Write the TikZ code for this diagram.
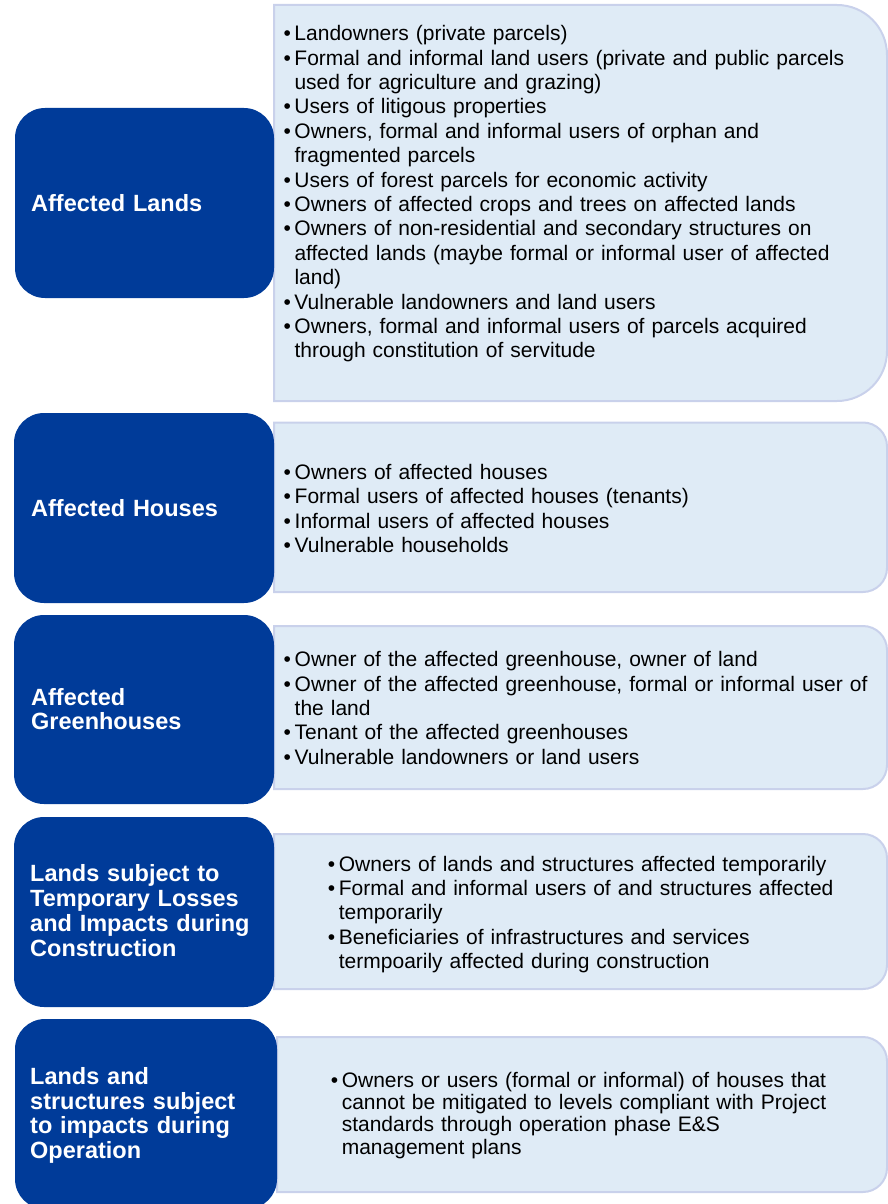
\documentclass[tikz,border=0pt]{standalone}
\usepackage{fontspec}
\setmainfont{Liberation Sans}
\definecolor{catblue}{RGB}{0,59,153}
\definecolor{panelfill}{RGB}{223,235,246}
\definecolor{panelline}{RGB}{201,209,235}

% one bulleted paragraph with a hanging indent
\newcommand\itm[1]{\hangindent=11pt\hangafter=1\noindent\makebox[11pt][l]{\textbullet}#1\par}

% light panel: square on the left, rounded on the right
% #1 left, #2 top, #3 right, #4 bottom, #5 corner radius (all in pt, y measured downwards)
\newcommand\panelbox[5]{%
  \filldraw[panel] (#1pt,-#2pt) -- ({#3pt-#5pt},-#2pt)
    arc[start angle=90,end angle=0,radius=#5pt]
    -- (#3pt,{-#4pt+#5pt})
    arc[start angle=0,end angle=-90,radius=#5pt]
    -- (#1pt,-#4pt) -- cycle;}

% dark category box: #1 left, #2 top, #3 right, #4 bottom
\newcommand\catbox[4]{%
  \fill[catblue, rounded corners=30pt] (#1pt,-#2pt) rectangle (#3pt,-#4pt);}

\tikzset{
  panel/.style={fill=panelfill, draw=panelline, line width=2pt},
  cattitle/.style={anchor=base west, inner sep=0pt, text width=240pt, align=left,
    text=white, font=\fontsize{23.5}{24.8}\selectfont\bfseries},
  itemlist/.style={anchor=base west, inner sep=0pt, text width=595pt, align=left,
    font=\fontsize{21}{24.4}\selectfont},
}

\begin{document}
\begin{tikzpicture}
\useasboundingbox (0,0) rectangle (888pt,-1204pt);

% panels with the lists
\panelbox{274}{5}{887}{401}{50}
\panelbox{274}{422.5}{887}{592}{24}
\panelbox{274}{626}{887}{789}{24}
\panelbox{274}{834}{887}{989}{24}
\panelbox{277}{1037}{887}{1192}{24}

% category boxes
\catbox{15}{108}{274}{298}
\catbox{14}{413}{274}{603}
\catbox{14}{615}{274}{804}
\catbox{14}{817}{274}{1007}
\catbox{15}{1019}{277}{1209}

% category titles
\node[cattitle] (t1) at (31pt,-211.7pt) {Affected Lands};
\node[cattitle] (t2) at (31pt,-516.7pt) {Affected Houses};
\node[cattitle] (t3) at (31pt,-705pt) {Affected\\Greenhouses};
\node[cattitle] (t4) at (30pt,-881.7pt) {Lands subject to\\Temporary Losses\\and Impacts during\\Construction};
\node[cattitle] (t5) at (30pt,-1084.3pt) {Lands and\\structures subject\\to impacts during\\Operation};

% lists
\node[itemlist] (l1) at (283.3pt,-40.7pt) {%
  \itm{Landowners (private parcels)}
  \itm{Formal and informal land users (private and public parcels\newline used for agriculture and grazing)}
  \itm{Users of litigous properties}
  \itm{Owners, formal and informal users of orphan and\newline fragmented parcels}
  \itm{Users of forest parcels for economic activity}
  \itm{Owners of affected crops and trees on affected lands}
  \itm{Owners of non-residential and secondary structures on\newline affected lands (maybe formal or informal user of affected\newline land)}
  \itm{Vulnerable landowners and land users}
  \itm{Owners, formal and informal users of parcels acquired\newline through constitution of servitude}};

\node[itemlist] (l2) at (283.5pt,-479.3pt) {%
  \itm{Owners of affected houses}
  \itm{Formal users of affected houses (tenants)}
  \itm{Informal users of affected houses}
  \itm{Vulnerable households}};

\node[itemlist] (l3) at (283.5pt,-666.6pt) {%
  \itm{Owner of the affected greenhouse, owner of land}
  \itm{Owner of the affected greenhouse, formal or informal user of\newline the land}
  \itm{Tenant of the affected greenhouses}
  \itm{Vulnerable landowners or land users}};

\node[itemlist] (l4) at (327.7pt,-871pt) {%
  \itm{Owners of lands and structures affected temporarily}
  \itm{Formal and informal users of and structures affected\newline temporarily}
  \itm{Beneficiaries of infrastructures and services\newline termpoarily affected during construction}};

\node[itemlist, font=\fontsize{21}{22.3}\selectfont] (l5) at (330.6pt,-1087.3pt) {%
  \itm{Owners or users (formal or informal) of houses that\newline cannot be mitigated to levels compliant with Project\newline standards through operation phase E\&S\newline management plans}};
\end{tikzpicture}
\end{document}
